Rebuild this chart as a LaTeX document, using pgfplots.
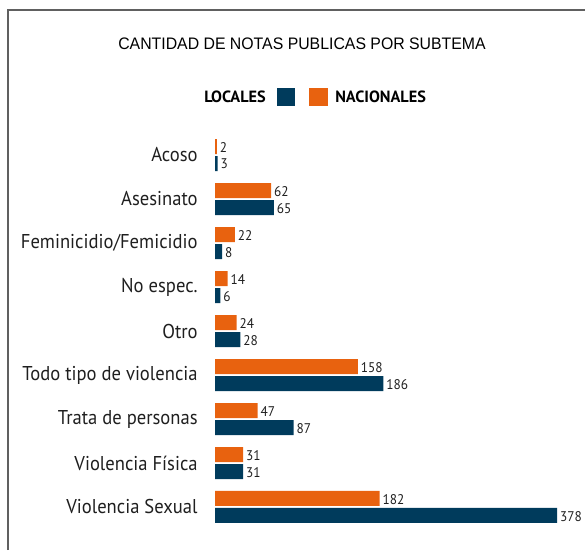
\documentclass[border=0pt]{standalone}
\usepackage{pgfplots}
\pgfplotsset{compat=1.18}
\usepackage{fontspec}
\setmainfont{PT Sans}
\newfontfamily\titlefont[FakeStretch=0.95]{Liberation Sans}
\newfontfamily\catfont[FakeStretch=0.93]{PT Sans}
\newfontfamily\numfont[FakeStretch=0.95]{PT Sans}
\definecolor{naranja}{HTML}{E8620F}
\definecolor{azul}{HTML}{003B5C}
\pgfplotstableread[col sep=comma]{
cat,nac,loc
0,2,3
1,62,65
2,22,8
3,14,6
4,24,28
5,158,186
6,47,87
7,31,31
8,182,378
}\datos
\begin{document}
\begin{tikzpicture}
\useasboundingbox (0,0) rectangle (438.75pt,-412.5pt);
\draw[gray!75!black, line width=1.2pt] (6pt,-412.5pt) -- (6pt,-7.5pt) -- (438.75pt,-7.5pt);
\node[font=\titlefont\fontsize{12.5}{14}\selectfont] at (226.5pt,-33pt) {CANTIDAD DE NOTAS PUBLICAS POR SUBTEMA};
\fill[azul] (207.75pt,-66pt) rectangle (221.25pt,-79.5pt);
\fill[naranja] (231.75pt,-66pt) rectangle (246pt,-79.5pt);
\node[anchor=east, inner sep=0pt, font=\bfseries\fontsize{12.2}{14}\selectfont] at (199.5pt,-72.75pt) {LOCALES};
\node[anchor=west, inner sep=0pt, font=\bfseries\fontsize{12.2}{14}\selectfont] at (251.25pt,-72.75pt) {NACIONALES};
\begin{axis}[
  at={(161.25pt,-99.75pt)}, anchor=north west,
  scale only axis, width=271.5pt, height=297pt,
  xmin=0, xmax=400, ymin=-0.5, ymax=8.5, y dir=reverse,
  axis line style={draw=none}, clip=false,
  xtick=\empty,
  xbar, bar width=11.25pt,
  ytick=data, yticklabels={Acoso,Asesinato,Feminicidio/Femicidio,No espec.,Otro,Todo tipo de violencia,Trata de personas,Violencia Física,Violencia Sexual},
  yticklabel style={font=\catfont\fontsize{15}{17}\selectfont, text=black!88, xshift=-9.5pt},
  major tick length=0pt,
  nodes near coords,
  every node near coord/.append style={font=\numfont\fontsize{10.5}{12}\selectfont, text=black!88, anchor=west, xshift=-1.3pt, yshift=-0.5pt, /pgf/number format/assume math mode=true},
]
\addplot[fill=naranja, draw=none, bar shift=6.375pt] table[x=nac, y=cat] {\datos};
\addplot[fill=azul, draw=none, bar shift=-6.375pt] table[x=loc, y=cat] {\datos};
\end{axis}
\end{tikzpicture}
\end{document}
